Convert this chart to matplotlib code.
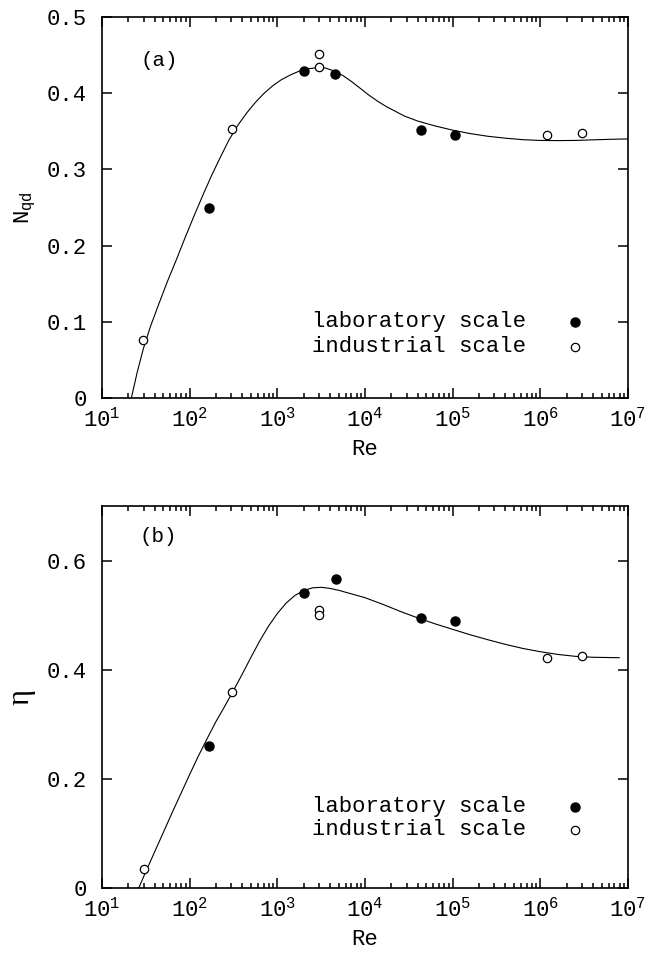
import numpy as np
import matplotlib
matplotlib.use("Agg")
import matplotlib.pyplot as plt
from matplotlib.ticker import FixedLocator, FuncFormatter, NullFormatter

plt.rcParams["font.family"] = ["Liberation Mono", "DejaVu Sans"]
plt.rcParams["mathtext.fontset"] = "custom"
plt.rcParams["mathtext.rm"] = "Liberation Mono"
plt.rcParams["mathtext.it"] = "Liberation Mono"

# (a) N_qd vs Re
lab_re_a = [164, 2040, 4550, 43000, 107000]
lab_nqd = [0.249, 0.429, 0.425, 0.352, 0.345]
ind_re_a = [29.6, 302, 3010, 3010, 1.19e6, 2.96e6]
ind_nqd = [0.076, 0.353, 0.451, 0.435, 0.345, 0.348]
fit_logre_a = [1.335, 1.40, 1.47, 1.55, 1.65, 1.75, 1.85, 1.95, 2.05, 2.15, 2.25, 2.35,
               2.45, 2.55, 2.65, 2.75, 2.85, 2.95, 3.05, 3.15, 3.25, 3.35, 3.45, 3.55,
               3.65, 3.75, 3.85, 3.95, 4.05, 4.15, 4.25, 4.35, 4.45, 4.6, 4.8, 5.0,
               5.2, 5.4, 5.6, 5.8, 6.0, 6.2, 6.4, 6.6, 6.8, 7.0]
fit_nqd = [0.0, 0.033, 0.064, 0.093, 0.124, 0.154, 0.182, 0.211, 0.239, 0.266, 0.292, 0.316,
           0.339, 0.358, 0.374, 0.388, 0.400, 0.410, 0.418, 0.424, 0.429, 0.432, 0.4335, 0.433,
           0.429, 0.423, 0.415, 0.406, 0.397, 0.389, 0.382, 0.376, 0.370, 0.3635, 0.357, 0.3515,
           0.347, 0.3435, 0.341, 0.339, 0.338, 0.3378, 0.338, 0.3388, 0.3395, 0.340]

# (b) eta vs Re
lab_re_b = [166, 2040, 4640, 43000, 107000]
lab_eta = [0.261, 0.540, 0.566, 0.495, 0.489]
ind_re_b = [29.8, 302, 3010, 3010, 1.19e6, 2.96e6]
ind_eta = [0.035, 0.359, 0.510, 0.501, 0.422, 0.426]
fit_logre_b = [1.419, 1.5, 1.6, 1.7, 1.8, 1.9, 2.0, 2.1, 2.2, 2.3, 2.4, 2.5,
               2.6, 2.7, 2.8, 2.9, 3.0, 3.1, 3.2, 3.3, 3.4, 3.5, 3.6, 3.7,
               3.8, 4.0, 4.2, 4.4, 4.6, 4.8, 5.0, 5.2, 5.4, 5.6, 5.8, 6.0,
               6.2, 6.4, 6.6, 6.9]
fit_eta = [0.0, 0.030, 0.066, 0.102, 0.138, 0.173, 0.208, 0.242, 0.274, 0.305, 0.333, 0.362,
           0.392, 0.423, 0.453, 0.480, 0.503, 0.522, 0.536, 0.545, 0.550, 0.551, 0.549, 0.5455,
           0.541, 0.532, 0.520, 0.507, 0.495, 0.484, 0.474, 0.464, 0.455, 0.4465, 0.439, 0.433,
           0.428, 0.4245, 0.4228, 0.422]

decades = [1, 2, 3, 4, 5, 6, 7]

W, H = 648, 957
fig = plt.figure(figsize=(W / 100, H / 100), dpi=100)
ax_a = fig.add_axes([102 / W, (H - 398) / H, 526 / W, 381 / H])
ax_b = fig.add_axes([102 / W, (H - 888) / H, 526 / W, 382 / H])


def yfmt(v, pos):
    return "0" if abs(v) < 1e-9 else f"{v:.1f}"


def style(ax, ymax, ystep):
    ax.set_xscale("log")
    ax.set_xlim(10, 1e7)
    ax.set_ylim(0, ymax)
    major = [10.0 ** d for d in decades]
    minor = [m * 10.0 ** d for d in decades[:-1] for m in range(2, 10)]
    ax.xaxis.set_major_locator(FixedLocator(major))
    ax.xaxis.set_major_formatter(FuncFormatter(lambda v, p: r"$10^{%d}$" % round(np.log10(v))))
    ax.xaxis.set_minor_locator(FixedLocator(minor))
    ax.xaxis.set_minor_formatter(NullFormatter())
    ax.yaxis.set_major_locator(FixedLocator(np.arange(0, ymax + 1e-9, ystep)))
    ax.yaxis.set_major_formatter(FuncFormatter(yfmt))
    ax.tick_params(which="both", direction="in", top=True, right=True, width=1.1)
    ax.tick_params(which="major", length=7)
    ax.tick_params(which="minor", length=3.5)
    ax.tick_params(axis="y", labelsize=16, pad=11)
    ax.tick_params(axis="x", labelsize=16, pad=7)
    for s in ax.spines.values():
        s.set_linewidth(1.2)
    ax.set_xlabel("Re", fontsize=16, labelpad=5)


def legend(ax, y1, y2):
    ax.text(0.806, y1, "laboratory scale", transform=ax.transAxes, ha="right", va="center", fontsize=16)
    ax.text(0.806, y2, "industrial scale", transform=ax.transAxes, ha="right", va="center", fontsize=16)
    ax.plot([0.899], [y1], "o", transform=ax.transAxes, color="black", ms=6.5, clip_on=False)
    ax.plot([0.899], [y2], "o", transform=ax.transAxes, mfc="white", mec="black", mew=0.9, ms=6, clip_on=False)


# panel (a)
ax_a.plot(10 ** np.array(fit_logre_a), fit_nqd, color="black", lw=0.8)
ax_a.plot(lab_re_a, lab_nqd, "o", color="black", ms=6.5)
ax_a.plot(ind_re_a, ind_nqd, "o", mfc="white", mec="black", mew=0.9, ms=6)
style(ax_a, 0.5, 0.1)
ax_a.set_ylabel(r"$\mathrm{N_{qd}}$", fontsize=16, labelpad=6)
ax_a.text(0.108, 0.887, "(a)", transform=ax_a.transAxes, ha="center", va="center", fontsize=15)
legend(ax_a, 0.1995, 0.134)

# panel (b)
ax_b.plot(10 ** np.array(fit_logre_b), fit_eta, color="black", lw=0.8)
ax_b.plot(lab_re_b, lab_eta, "o", color="black", ms=6.5)
ax_b.plot(ind_re_b, ind_eta, "o", mfc="white", mec="black", mew=0.9, ms=6)
style(ax_b, 0.7, 0.2)
ax_b.set_ylabel("η", fontsize=22, family=["Liberation Serif", "DejaVu Serif"], labelpad=8)
ax_b.text(0.106, 0.921, "(b)", transform=ax_b.transAxes, ha="center", va="center", fontsize=15)
legend(ax_b, 0.213, 0.152)

fig.savefig("out.png", dpi=100)
